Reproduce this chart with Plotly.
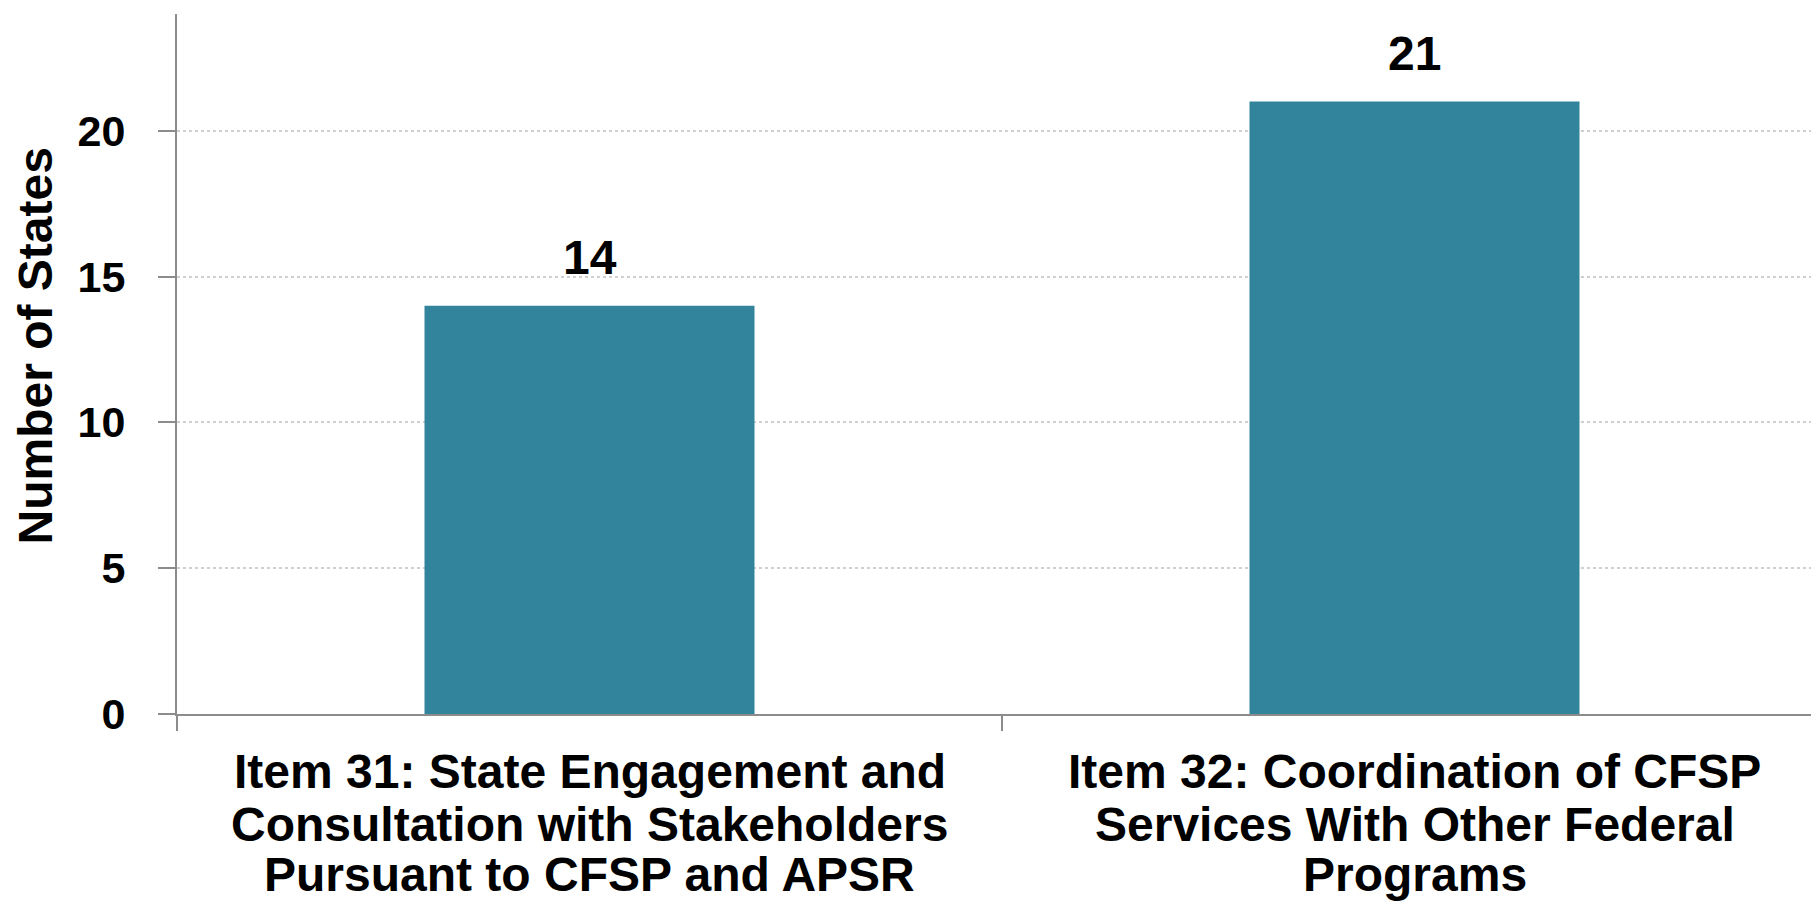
import plotly.graph_objects as go

# chart data
categories = [
    "Item 31: State Engagement and<br>Consultation with Stakeholders<br>Pursuant to CFSP and APSR",
    "Item 32: Coordination of CFSP<br>Services With Other Federal<br>Programs",
]
states = [14, 21]
y_ticks = [0, 5, 10, 15, 20]

bar_color = "#31849B"
font_family = "Liberation Sans, Arial, sans-serif"

fig = go.Figure(go.Bar(
    x=categories,
    y=states,
    marker=dict(color=bar_color, line=dict(width=0)),
    width=0.4,
))

# value labels above bars
for cat, val in zip(categories, states):
    fig.add_annotation(
        x=cat, y=val, text=f"<b>{val}</b>", showarrow=False,
        yanchor="bottom", yshift=20,
        font=dict(family=font_family, size=48, color="black"),
    )

# category labels, one annotation per line for tighter line spacing
line_shifts = [-57, -110, -160]
for cat in categories:
    for line, shift in zip(cat.split("<br>"), line_shifts):
        fig.add_annotation(
            x=cat, xref="x", y=0, yref="paper", yanchor="middle",
            yshift=shift, text=f"<b>{line}</b>", showarrow=False,
            font=dict(family=font_family, size=48, color="black"),
        )

# y-axis title
fig.add_annotation(
    x=0, xref="paper", xanchor="center", xshift=-142,
    y=0.525, yref="paper", yanchor="middle",
    text="<b>Number of States</b>", textangle=-90, showarrow=False,
    font=dict(family=font_family, size=48, color="black"),
)

fig.update_layout(
    width=1819, height=907,
    margin=dict(l=169, r=0, t=6, b=201),
    plot_bgcolor="white", paper_bgcolor="white",
    showlegend=False,
    font=dict(family=font_family, size=42, color="black"),
)

fig.update_yaxes(
    range=[0, 24],
    tickvals=y_ticks,
    ticktext=[f"<b>{t}</b>" for t in y_ticks],
    tickfont=dict(family=font_family, size=43),
    showgrid=True, gridcolor="#cfcfcf", gridwidth=2, griddash="dot",
    showline=True, linecolor="#8c8c8c", linewidth=2,
    ticks="outside", ticklen=17, tickcolor="#8c8c8c", tickwidth=2,
    ticklabelstandoff=24,
    zeroline=False,
    automargin=False,
)

fig.update_xaxes(
    showline=True, linecolor="#8c8c8c", linewidth=2,
    ticks="outside", ticklen=15, tickcolor="#8c8c8c", tickwidth=2,
    tickson="boundaries",
    showticklabels=False,
    automargin=False,
)

fig.write_html("out.html")
